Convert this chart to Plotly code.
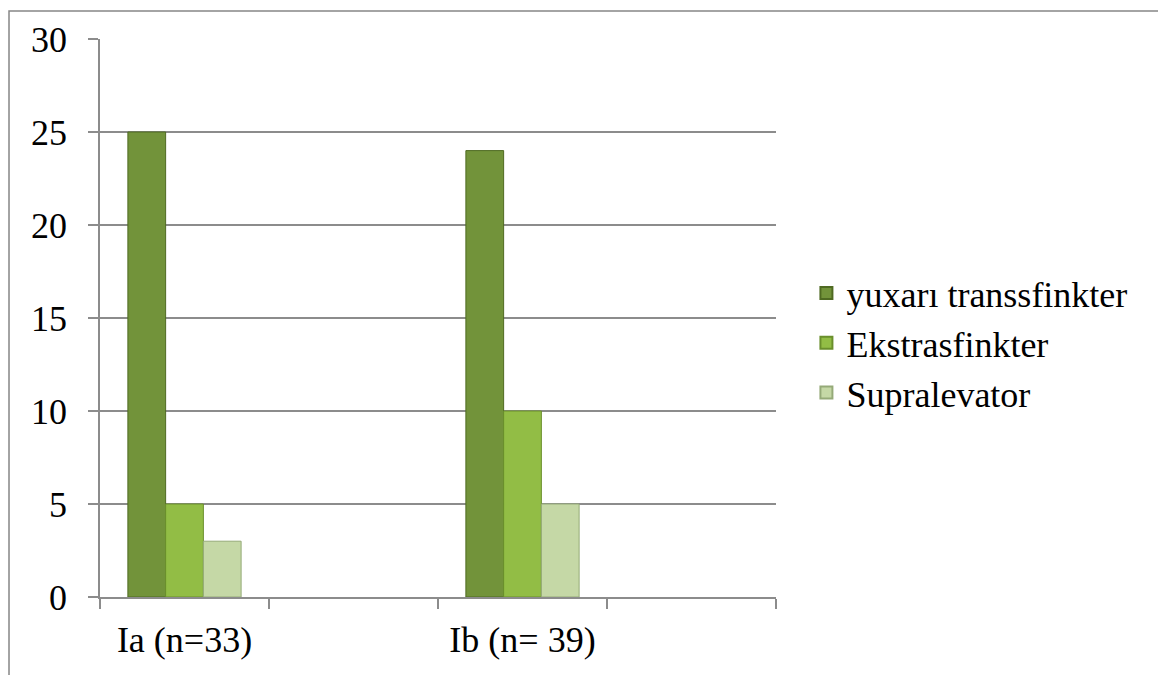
import plotly.graph_objects as go

categories = ["Ia (n=33)", " ", "Ib (n= 39)", "  "]
series_names = ["yuxarı transsfinkter", "Ekstrasfinkter", "Supralevator"]
upper_trans = [25, None, 24, None]
extra = [5, None, 10, None]
supra = [3, None, 5, None]
y_ticks = [0, 5, 10, 15, 20, 25, 30]

colors = ["#72933A", "#92BD45", "#C5D8A6"]
edge = ["#4F6A22", "#6A8F2C", "#95AA78"]

fig = go.Figure()
for name, vals, c, e in zip(series_names, [upper_trans, extra, supra], colors, edge):
    fig.add_trace(go.Bar(
        x=categories, y=vals, name=name,
        marker=dict(color=c, line=dict(color=e, width=1)),
    ))

font = dict(family="Liberation Serif", size=36, color="#000000")
grid = "#8C8C8C"

fig.update_layout(
    width=1166, height=675,
    margin=dict(l=92, r=398, t=29, b=86),
    paper_bgcolor="white", plot_bgcolor="white",
    barmode="group", bargap=0.33, bargroupgap=0,
    font=font,
    showlegend=True,
    legend=dict(x=1.045, y=0.455, xanchor="left", yanchor="middle",
                font=font, bgcolor="rgba(0,0,0,0)", itemsizing="constant"),
    xaxis=dict(
        type="category", categoryorder="array", categoryarray=categories,
        range=[-0.5, 3.5], tickson="boundaries",
        ticks="outside", ticklen=10, tickcolor=grid, tickwidth=1.5,
        showline=True, linecolor=grid, linewidth=1.5,
        showgrid=False, ticklabelstandoff=10,
        tickfont=font,
    ),
    yaxis=dict(
        range=[0, 30], tickvals=y_ticks, ticktext=[str(v) for v in y_ticks],
        ticks="outside", ticklen=10, tickcolor=grid, tickwidth=1.5,
        showline=True, linecolor=grid, linewidth=1.5,
        showgrid=True, gridcolor=grid, gridwidth=1.5,
        zeroline=False, ticklabelstandoff=14,
        tickfont=font,
    ),
    shapes=[dict(type="rect", xref="paper", yref="paper",
                 x0=-0.1346, x1=1.5666, y0=-0.16, y1=1.05,
                 line=dict(color="#868686", width=1.5), fillcolor="rgba(0,0,0,0)",
                 layer="below")],
)

fig.write_html("out.html")
